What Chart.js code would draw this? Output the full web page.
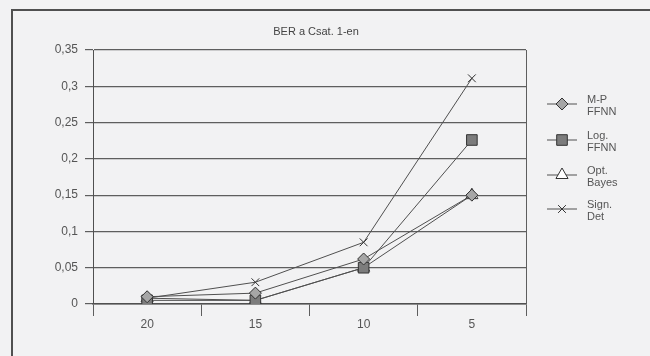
<!DOCTYPE html>
<html>
<head>
<meta charset="utf-8">
<script src="https://cdn.jsdelivr.net/npm/chart.js@4/dist/chart.umd.min.js"></script>
<style>
  html, body { margin: 0; padding: 0; background: #f2f2f3; }
  #wrap { width: 650px; height: 356px; position: relative; }
</style>
</head>
<body>
<div id="wrap"><canvas id="c" width="650" height="356"></canvas></div>
<script>
// Bit error rate against the channel parameter, four detectors
const categories = ['20', '15', '10', '5'];
const mpFfnn   = [0.010, 0.015, 0.062, 0.150];
const logFfnn  = [0.005, 0.005, 0.050, 0.226];
const optBayes = [0.008, 0.005, 0.050, 0.150];
const signDet  = [0.008, 0.030, 0.085, 0.311];
const yTicks = [0, 0.05, 0.1, 0.15, 0.2, 0.25, 0.3, 0.35];
const titleText = 'BER a Csat. 1-en';
const legendLines = [['M-P', 'FFNN'], ['Log.', 'FFNN'], ['Opt.', 'Bayes'], ['Sign.', 'Det']];

const INK = '#505050';
const GRID = '#5e5e5e';
const TEXT = '#555555';
const FONT = '"Liberation Sans", Arial, sans-serif';

function fmt(v) {
  const s = (Math.round(v * 100) / 100).toString();
  return s.replace('.', ',');
}

function series(label, data, style, fill, radius) {
  return {
    label, data,
    borderColor: INK, borderWidth: 1,
    pointStyle: style, pointRadius: radius, pointHoverRadius: radius,
    pointBackgroundColor: fill, pointBorderColor: '#333', pointBorderWidth: 1,
    tension: 0, fill: false
  };
}

const frame = {
  id: 'frame',
  beforeDraw(chart) {
    const ctx = chart.ctx;
    ctx.save();
    ctx.fillStyle = '#f2f2f3';
    ctx.fillRect(0, 0, chart.width, chart.height);
    ctx.restore();
  },
  afterDraw(chart) {
    const ctx = chart.ctx, a = chart.chartArea;
    ctx.save();
    // outer frame
    ctx.strokeStyle = '#505050';
    ctx.lineWidth = 2;
    ctx.beginPath();
    ctx.moveTo(12, chart.height + 2);
    ctx.lineTo(12, 10);
    ctx.lineTo(chart.width + 2, 10);
    ctx.stroke();
    // right edge of plot area
    ctx.strokeStyle = GRID;
    ctx.lineWidth = 1;
    ctx.beginPath();
    ctx.moveTo(a.right + 0.5, a.top);
    ctx.lineTo(a.right + 0.5, a.bottom);
    ctx.stroke();
    // title
    ctx.fillStyle = '#444';
    ctx.font = '11px ' + FONT;
    ctx.textAlign = 'center';
    ctx.textBaseline = 'middle';
    ctx.fillText(titleText, 316, 32);
    // legend
    const x0 = 547, x1 = 577, tx = 587;
    const rows = [100, 136, 171, 205];
    chart.data.datasets.forEach((ds, i) => {
      const yc = rows[i] + 4;
      ctx.strokeStyle = INK;
      ctx.lineWidth = 1;
      ctx.beginPath();
      ctx.moveTo(x0, yc);
      ctx.lineTo(x1, yc);
      ctx.stroke();
      ctx.fillStyle = ds.pointBackgroundColor;
      ctx.strokeStyle = ds.pointBorderColor;
      ctx.lineWidth = 1;
      Chart.helpers.drawPoint(ctx, {
        pointStyle: ds.pointStyle, radius: ds.pointRadius, borderWidth: 1, rotation: 0
      }, 562, yc);
      ctx.fillStyle = TEXT;
      ctx.font = '11px ' + FONT;
      ctx.textAlign = 'left';
      ctx.textBaseline = 'middle';
      legendLines[i].forEach((t, k) => ctx.fillText(t, tx, rows[i] + k * 12));
    });
    ctx.restore();
  }
};

new Chart(document.getElementById('c'), {
  type: 'line',
  data: {
    labels: categories,
    datasets: [
      series('M-P FFNN', mpFfnn, 'rectRot', '#a6a6a6', 6),
      series('Log. FFNN', logFfnn, 'rect', '#7c7c7c', 7.5),
      series('Opt. Bayes', optBayes, 'triangle', '#ffffff', 7),
      series('Sign. Det', signDet, 'crossRot', '#333', 5.5)
    ]
  },
  options: {
    responsive: false,
    animation: false,
    layout: { padding: { left: 0, right: 124, top: 50, bottom: 0 } },
    plugins: { legend: { display: false }, title: { display: false }, tooltip: { enabled: false } },
    scales: {
      x: {
        offset: true,
        grid: { offset: true, drawOnChartArea: false, drawTicks: true, tickLength: 12, color: GRID, lineWidth: 1 },
        border: { display: true, color: INK, width: 1.5 },
        ticks: { color: TEXT, font: { family: FONT, size: 12 }, padding: 1, maxRotation: 0 },
        afterFit(s) { s.height = 52; }
      },
      y: {
        min: 0, max: 0.35,
        afterBuildTicks(s) { s.ticks = yTicks.map(v => ({ value: v })); },
        grid: { color: GRID, lineWidth: 1.2, drawTicks: true, tickLength: 8 },
        border: { display: true, color: INK, width: 1 },
        ticks: { color: TEXT, font: { family: FONT, size: 12 }, padding: 7, callback: v => fmt(v) },
        afterFit(s) { s.width = 93; }
      }
    }
  },
  plugins: [frame]
});
</script>
</body>
</html>
